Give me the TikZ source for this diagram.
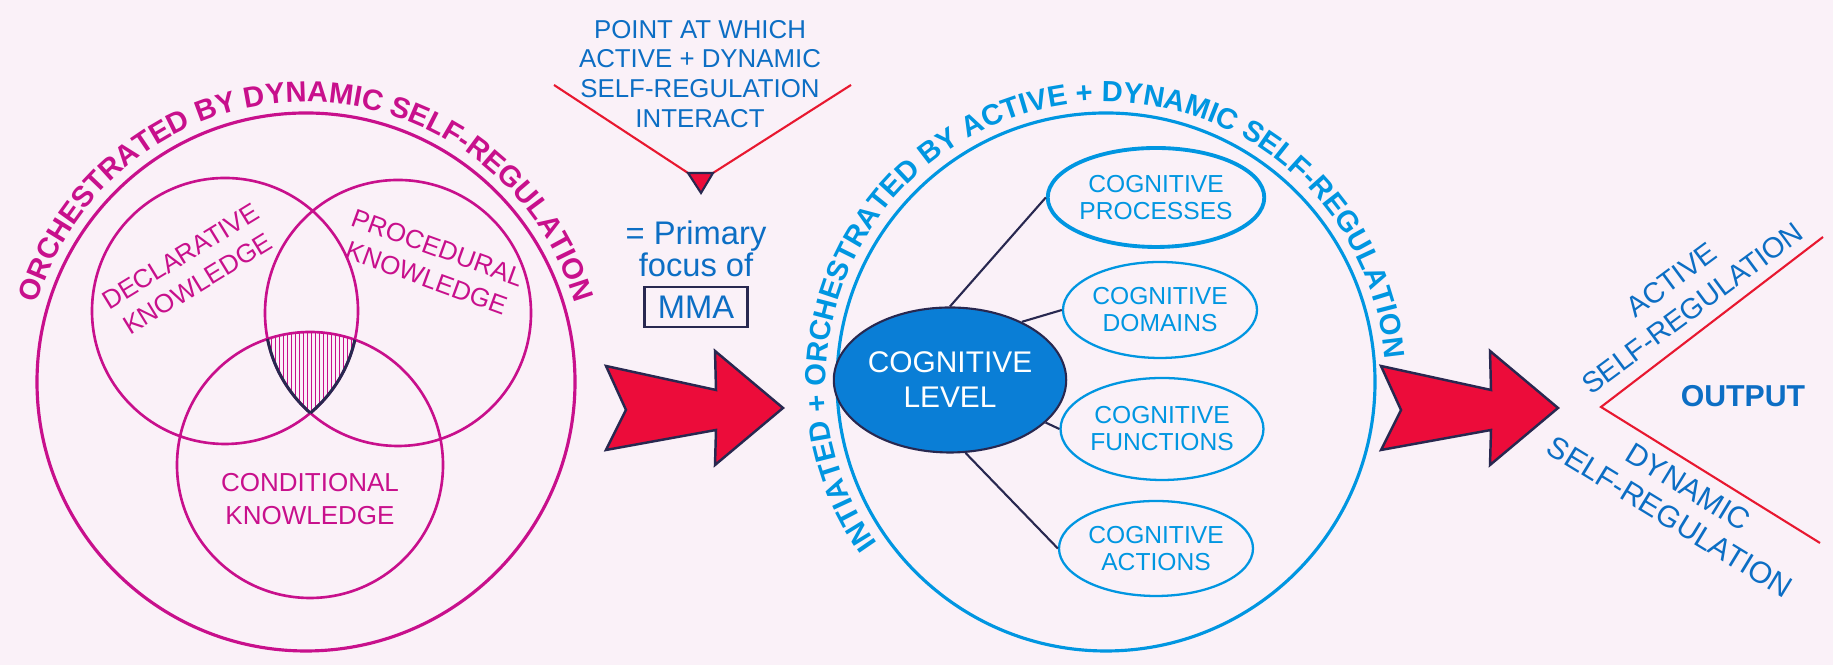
\documentclass[tikz,border=0pt]{standalone}
\usepackage{fontspec}
\setmainfont{Liberation Sans}
\usepackage{tikz}
\usetikzlibrary{positioning}
\usetikzlibrary{shapes.geometric}
\usetikzlibrary{patterns.meta}
\usetikzlibrary{decorations.text}

\definecolor{bgpink}{RGB}{250,241,248}
\definecolor{venn}{RGB}{200,16,140}
\definecolor{cogblue}{RGB}{0,150,225}
\definecolor{darkblue}{RGB}{12,110,196}
\definecolor{levelblue}{RGB}{10,126,214}
\definecolor{navy}{RGB}{40,40,80}
\definecolor{redfill}{RGB}{236,12,58}
\definecolor{vred}{RGB}{232,24,48}

\begin{document}
\begin{tikzpicture}[
    knowledge/.style = {text=venn, align=center, inner sep=0pt, font=\fontsize{7.4}{9.2}\selectfont},
    cogitem/.style = {ellipse, draw=cogblue, line width=0.65pt, text=cogblue, align=center, inner sep=0pt,
        minimum width=1.94cm, minimum height=0.96cm, font=\fontsize{7}{7.7}\selectfont},
    note/.style = {text=darkblue, align=center, inner sep=0pt},
    link/.style = {draw=navy, line width=0.6pt},
    redline/.style = {draw=vred, line width=0.6pt},
    bigarrow/.style = {fill=redfill, draw=navy, line width=0.7pt, line join=miter}]
    \fill[bgpink] (0,0) rectangle (18.33,6.65);
    \useasboundingbox (0,0) rectangle (18.33,6.65);

    \coordinate (outerL) at (3.06,2.83);
    \coordinate (decl) at (2.25,3.54);
    \coordinate (proc) at (3.98,3.52);
    \coordinate (cond) at (3.10,2.00);
    \coordinate (outerR) at (11.06,2.83);

    \begin{scope}
        \clip (decl) circle[radius=1.33];
        \clip (proc) circle[radius=1.33];
        \fill[pattern={Lines[angle=90, distance=0.04cm, line width=0.3pt]}, pattern color=venn] (cond) circle[radius=1.33];
    \end{scope}
    \draw[venn, line width=0.9pt] (outerL) circle[radius=2.69];
    \draw[venn, line width=0.75pt] (decl) circle[radius=1.33] (proc) circle[radius=1.33] (cond) circle[radius=1.33];
    \begin{scope}
        \clip (cond) circle[radius=1.33];
        \clip (proc) circle[radius=1.33];
        \draw[navy, line width=0.85pt] (decl) circle[radius=1.33];
    \end{scope}
    \begin{scope}
        \clip (cond) circle[radius=1.33];
        \clip (decl) circle[radius=1.33];
        \draw[navy, line width=0.85pt] (proc) circle[radius=1.33];
    \end{scope}
    \path[decorate, decoration={text along path, text align=center, text color=venn,
        text={|\bfseries\fontsize{8.3}{10}\selectfont|ORCHESTRATED BY DYNAMIC SELF-REGULATION}}]
        (outerL) ++(165:2.80) arc[start angle=165, end angle=15, radius=2.80];

    \node[knowledge, rotate=31.5] (decltext) at (1.89,3.95) {DECLARATIVE\\KNOWLEDGE};
    \node[knowledge, rotate=-20] (proctext) at (4.32,4.02) {PROCEDURAL\\KNOWLEDGE};
    \node[knowledge] (condtext) at (3.10,1.66) {CONDITIONAL\\KNOWLEDGE};

    \node[note, font=\fontsize{7.35}{8.5}\selectfont] (point) at (7.00,5.91) {POINT AT WHICH\\ACTIVE + DYNAMIC\\SELF-REGULATION\\INTERACT};
    \coordinate (vl) at (5.54,5.80);
    \coordinate (vr) at (8.51,5.80);
    \coordinate (tl) at (6.88,4.92);
    \coordinate (tr) at (7.13,4.92);
    \coordinate (tip) at (7.01,4.72);
    \draw[redline] (vl) -- (tl) (vr) -- (tr);
    \filldraw[bigarrow, line width=0.6pt] (tl) -- (tr) -- (tip) -- cycle;
    \node[note, font=\fontsize{9.3}{9.1}\selectfont] (primary) at (6.96,4.16) {= Primary\\focus of};
    \node[note, draw=navy, line width=0.8pt, minimum width=1.03cm, minimum height=0.40cm,
        font=\fontsize{9.3}{11}\selectfont, below=0.08cm of primary] (mma) {MMA};

    \foreach \dx in {6.26,14.01}
        \filldraw[bigarrow, xshift=\dx cm, yshift=2.55cm] (-0.20,0.44) -- (0,0) -- (-0.20,-0.40) -- (0.90,-0.20)
            -- (0.89,-0.55) -- (1.57,0.02) -- (0.89,0.59) -- (0.90,0.20) -- cycle;

    \draw[cogblue, line width=0.9pt] (outerR) circle[radius=2.69];
    \path[decorate, decoration={text along path, text align=center, text color=cogblue,
        text={|\bfseries\fontsize{8.3}{10}\selectfont|INTIATED + ORCHESTRATED BY ACTIVE + DYNAMIC SELF-REGULATION}}]
        (outerR) ++(218:2.80) arc[start angle=218, end angle=2, radius=2.80];

    \node[ellipse, fill=levelblue, draw=navy, line width=0.6pt, text=white, minimum width=1.89cm, minimum height=1.45cm,
        inner sep=0pt, align=center, font=\fontsize{8.5}{10}\selectfont] (level) at (9.50,2.85) {COGNITIVE\\LEVEL};
    \node[cogitem, line width=1.1pt, minimum height=0.99cm] (processes) at (11.56,4.675) {COGNITIVE\\PROCESSES};
    \node[cogitem] (domains) at (11.60,3.55) {COGNITIVE\\DOMAINS};
    \node[cogitem, minimum width=2.02cm, minimum height=1.02cm] (functions) at (11.62,2.36) {COGNITIVE\\FUNCTIONS};
    \node[cogitem, minimum height=0.95cm] (actions) at (11.56,1.165) {COGNITIVE\\ACTIONS};
    \draw[link] (level.90) -- (processes.west);
    \draw[link] (level.39) -- (domains.west);
    \draw[link] (level.-24) -- (functions.west);
    \draw[link] (level.-78) -- (actions.west);

    \coordinate (vertex) at (16.01,2.58);
    \coordinate (upper) at (18.23,4.28);
    \coordinate (lower) at (18.20,1.22);
    \draw[redline] (upper) -- (vertex) -- (lower);
    \node[note, font=\bfseries\fontsize{8.6}{10}\selectfont] (output) at (17.43,2.685) {OUTPUT};
    \node[note, rotate=36.5, font=\fontsize{8.2}{10}\selectfont] (active) at (16.82,3.71) {ACTIVE\\SELF-REGULATION};
    \node[note, rotate=-31.4, font=\fontsize{8.6}{10}\selectfont] (dynamic) at (16.79,1.63) {DYNAMIC\\SELF-REGULATION};
\end{tikzpicture}
\end{document}
